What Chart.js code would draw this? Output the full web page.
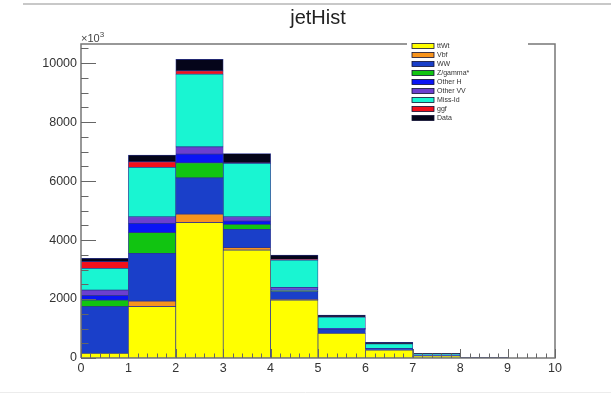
<!DOCTYPE html>
<html>
<head>
<meta charset="utf-8">
<script src="https://cdn.jsdelivr.net/npm/chart.js@4.4.1/dist/chart.umd.min.js"></script>
<style>
  html, body { margin: 0; padding: 0; background: #ffffff; }
  #wrap { position: relative; width: 611px; height: 396px; }
</style>
</head>
<body>
<div id="wrap"><canvas id="c"></canvas></div>
<script>
// ---- data ----
const binCenters = [0.5, 1.5, 2.5, 3.5, 4.5, 5.5, 6.5, 7.5, 8.5, 9.5];
const xTickLabels = [0, 1, 2, 3, 4, 5, 6, 7, 8, 9, 10];
const yTickValues = [0, 2000, 4000, 6000, 8000, 10000];
const seriesNames = ["ttWt", "Vbf", "WW", "Z/gamma*", "Other H", "Other VV", "Miss-Id", "ggf", "Data"];
const seriesColors = ["#ffff00", "#f7941d", "#1a3fc9", "#11c411", "#0a14f5", "#6c3fcf", "#19f5d2", "#f0101c", "#05051a"];

const ttWt    = [160, 1740, 4590, 3660, 1965, 835, 270, 70, 0, 0];
const vbf     = [0, 190, 290, 80, 15, 0, 0, 0, 0, 0];
const ww      = [1580, 1620, 1230, 620, 270, 135, 55, 40, 15, 0];
const zgamma  = [225, 700, 510, 170, 40, 15, 0, 0, 0, 0];
const otherH  = [150, 315, 295, 115, 50, 10, 0, 0, 0, 0];
const otherVV = [190, 225, 245, 145, 55, 10, 0, 0, 0, 0];
const missId  = [735, 1675, 2465, 1810, 925, 380, 150, 30, 0, 0];
const ggf     = [225, 190, 115, 20, 20, 5, 0, 0, 0, 0];
const data    = [115, 225, 390, 315, 150, 65, 55, 15, 10, 0];
const seriesValues = [ttWt, vbf, ww, zgamma, otherH, otherVV, missId, ggf, data];

const Y_MAX = 10650;

const datasets = seriesNames.map((name, i) => ({
  label: name,
  data: binCenters.map((x, j) => ({ x: x, y: seriesValues[i][j] })),
  backgroundColor: seriesColors[i],
  borderColor: "#2c3590",
  borderWidth: 0.7,
  borderSkipped: false,
  barPercentage: 1.0,
  categoryPercentage: 1.0,
  stack: "s"
}));

const rootStyle = {
  id: "rootStyle",
  afterDraw(chart) {
    const ctx = chart.ctx;
    const xs = chart.scales.x, ys = chart.scales.y;
    const L = chart.chartArea.left, R = chart.chartArea.right;
    const T = chart.chartArea.top, B = chart.chartArea.bottom;
    ctx.save();
    // page top line
    ctx.strokeStyle = "#c8c8c8";
    ctx.lineWidth = 2;
    ctx.beginPath(); ctx.moveTo(23, 4); ctx.lineTo(611, 4); ctx.stroke();
    ctx.strokeStyle = "#ececec";
    ctx.lineWidth = 1;
    ctx.beginPath(); ctx.moveTo(0, 392.5); ctx.lineTo(611, 392.5); ctx.stroke();

    // frame
    ctx.strokeStyle = "#777777";
    ctx.lineWidth = 1.5;
    ctx.beginPath();
    ctx.moveTo(L, B); ctx.lineTo(L, T); ctx.lineTo(R, T); ctx.lineTo(R, B); ctx.lineTo(L, B);
    ctx.stroke();

    // ticks (inward)
    ctx.strokeStyle = "#666666";
    ctx.lineWidth = 1;
    ctx.beginPath();
    for (let v = 0; v <= Y_MAX; v += 500) {
      const py = Math.round(ys.getPixelForValue(v)) + 0.5;
      const len = (v % 2000 === 0) ? 15 : 7.5;
      ctx.moveTo(L, py); ctx.lineTo(L + len, py);
    }
    for (let k = 0; k <= 50; k++) {
      const v = k / 5;
      const px = Math.round(xs.getPixelForValue(v)) + 0.5;
      const len = (k % 5 === 0) ? 9 : 4.5;
      ctx.moveTo(px, B); ctx.lineTo(px, B - len);
    }
    ctx.stroke();

    // legend
    ctx.fillStyle = "#ffffff";
    ctx.fillRect(407, 40, 121, 85);
    ctx.font = "7px 'Liberation Sans', Arial, sans-serif";
    ctx.textBaseline = "middle";
    chart.data.datasets.forEach((ds, i) => {
      const cy = 46 + i * 9;
      ctx.fillStyle = ds.backgroundColor;
      ctx.fillRect(412, cy - 2.5, 22, 5);
      ctx.strokeStyle = "#111133";
      ctx.lineWidth = 0.8;
      ctx.strokeRect(412, cy - 2.5, 22, 5);
      ctx.fillStyle = "#333333";
      ctx.fillText(ds.label, 437, cy + 0.5);
    });

    // title
    ctx.fillStyle = "#222222";
    ctx.font = "20px 'Liberation Sans', Arial, sans-serif";
    ctx.textAlign = "center";
    ctx.textBaseline = "alphabetic";
    ctx.fillText("jetHist", (L + R) / 2, 24);

    // x10^3
    ctx.textAlign = "left";
    ctx.fillStyle = "#444444";
    ctx.font = "11px 'Liberation Sans', Arial, sans-serif";
    ctx.fillText("\u00d710", 81, 42);
    const w = ctx.measureText("\u00d710").width;
    ctx.font = "8px 'Liberation Sans', Arial, sans-serif";
    ctx.fillText("3", 81 + w, 37);
    ctx.restore();
  }
};

new Chart(document.getElementById("c"), {
  type: "bar",
  data: { datasets: datasets },
  options: {
    responsive: true,
    maintainAspectRatio: false,
    animation: false,
    layout: { padding: { left: 0, right: 56, top: 44, bottom: 0 } },
    plugins: { legend: { display: false }, title: { display: false }, tooltip: { enabled: false } },
    scales: {
      x: {
        type: "linear",
        stacked: true,
        min: 0, max: 10,
        offset: false,
        grid: { display: false, drawTicks: false },
        border: { display: false },
        afterBuildTicks: (s) => { s.ticks = xTickLabels.map(v => ({ value: v })); },
        afterFit: (s) => { s.height = 38; },
        ticks: {
          autoSkip: false, maxRotation: 0, padding: 3,
          color: "#333333",
          font: { family: "'Liberation Sans', Arial, sans-serif", size: 12.5 }
        }
      },
      y: {
        type: "linear",
        stacked: true,
        min: 0, max: Y_MAX,
        grid: { display: false, drawTicks: false },
        border: { display: false },
        afterBuildTicks: (s) => { s.ticks = yTickValues.map(v => ({ value: v })); },
        afterFit: (s) => { s.width = 81; },
        ticks: {
          padding: 4,
          color: "#333333",
          font: { family: "'Liberation Sans', Arial, sans-serif", size: 12.5 },
          callback: (v) => String(v)
        }
      }
    }
  },
  plugins: [rootStyle]
});
</script>
</body>
</html>
